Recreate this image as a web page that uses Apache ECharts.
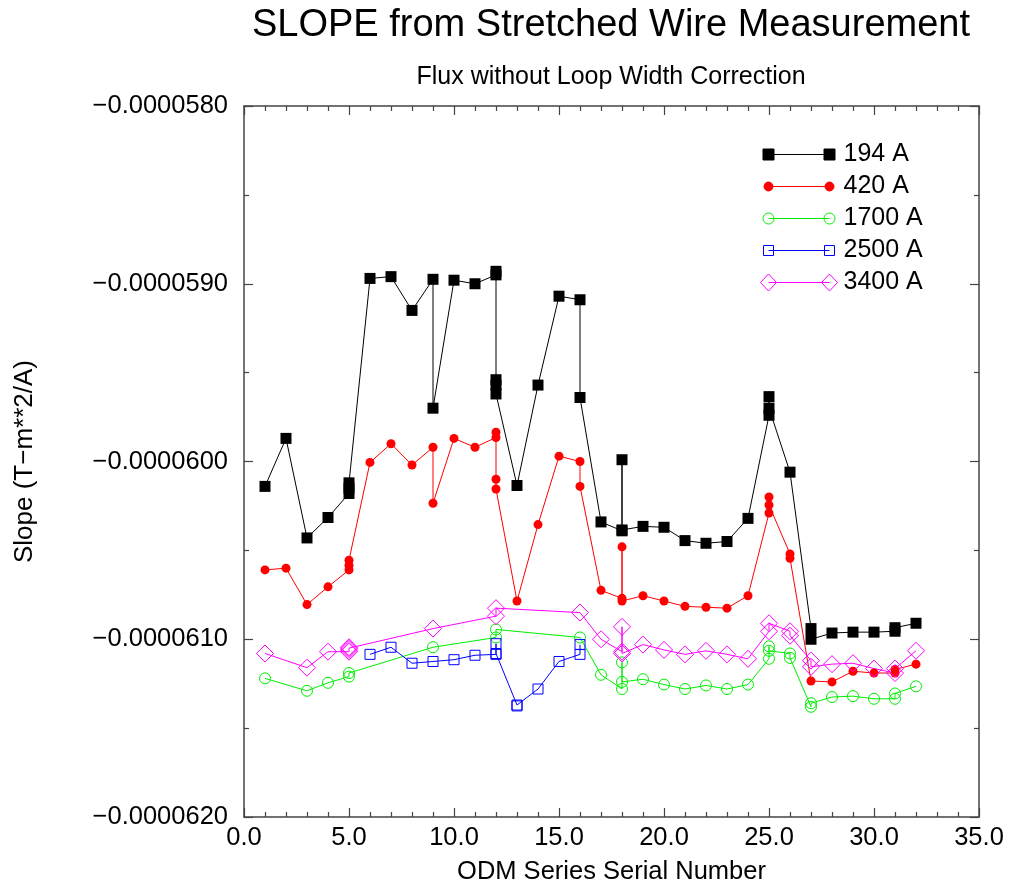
<!DOCTYPE html>
<html>
<head>
<meta charset="utf-8">
<script src="https://cdn.jsdelivr.net/npm/echarts@6/dist/echarts.min.js"></script>
<style>html,body{margin:0;padding:0;background:#fff;overflow:hidden}#c{width:1010px;height:890px}</style>
</head>
<body>
<div id="c"></div>
<script>
// Values are slope in units of 1e-6 T-m**2/A
const x194 = [1,2,3,4,5,5,5,6,7,8,9,9,10,11,12,12,12,12,12,13,14,15,16,16,17,18,18,18,19,20,21,22,23,24,25,25,25,26,27,27,28,29,30,31,31,32];
const y194 = [-60.14,-59.87,-60.43,-60.315,-60.18,-60.15,-60.12,-58.97,-58.96,-59.15,-58.975,-59.70,-58.98,-59.00,-58.95,-58.93,-59.54,-59.57,-59.62,-60.135,-59.57,-59.07,-59.09,-59.64,-60.34,-60.39,-59.99,-60.385,-60.365,-60.37,-60.445,-60.46,-60.45,-60.32,-59.74,-59.635,-59.70,-60.06,-60.94,-61.0,-60.965,-60.96,-60.96,-60.955,-60.935,-60.91];

const x420 = [1,2,3,4,5,5,5,6,7,8,9,9,10,11,12,12,12,12,13,14,15,16,16,17,18,18,18,19,20,21,22,23,24,25,25,25,26,26,27,28,29,30,31,31,32];
const y420 = [-60.61,-60.60,-60.805,-60.705,-60.61,-60.585,-60.555,-60.005,-59.90,-60.02,-59.92,-60.235,-59.87,-59.92,-59.865,-59.835,-60.10,-60.155,-60.785,-60.355,-59.97,-60.0,-60.14,-60.725,-60.77,-60.48,-60.785,-60.755,-60.785,-60.815,-60.82,-60.825,-60.755,-60.29,-60.20,-60.245,-60.52,-60.545,-61.235,-61.24,-61.18,-61.19,-61.19,-61.17,-61.14];

const x1700 = [1,3,4,5,5,9,12,12,16,17,18,18,18,19,20,21,22,23,24,25,25,25,26,26,27,27,28,29,30,31,31,32];
const y1700 = [-61.22,-61.29,-61.245,-61.21,-61.19,-61.045,-60.99,-60.945,-60.99,-61.2,-61.28,-61.13,-61.24,-61.225,-61.255,-61.28,-61.26,-61.28,-61.255,-61.11,-61.04,-61.065,-61.08,-61.105,-61.38,-61.36,-61.325,-61.32,-61.335,-61.335,-61.305,-61.265];

const x2500 = [6,7,8,9,10,11,12,12,12,13,13,14,15,16,16];
const y2500 = [-61.085,-61.045,-61.135,-61.125,-61.115,-61.09,-61.085,-61.025,-61.08,-61.37,-61.375,-61.28,-61.125,-61.085,-61.03];

const x3400 = [1,3,4,5,5,5,5,9,12,12,16,17,18,18,18,19,20,21,22,23,24,25,25,26,26,27,27,28,29,30,31,31,32];
const y3400 = [-61.08,-61.16,-61.07,-61.07,-61.06,-61.05,-61.045,-60.94,-60.87,-60.825,-60.85,-61.0,-61.07,-60.93,-61.08,-61.03,-61.06,-61.085,-61.065,-61.085,-61.11,-60.955,-60.91,-60.955,-60.98,-61.12,-61.155,-61.14,-61.135,-61.165,-61.19,-61.165,-61.065];

const seriesNames = ['194 A','420 A','1700 A','2500 A','3400 A'];
const xTickValues = [0,5,10,15,20,25,30,35];
const yTickValues = [-62,-61,-60,-59,-58];

const FONT = 'Liberation Sans, Arial, Helvetica, sans-serif';
const pairs = (xs, ys) => xs.map((x, i) => [x, ys[i]]);
const yFmt = v => (v < 0 ? '\u2212' : '') + (Math.abs(v) / 1e6).toFixed(7);

function mk(name, xs, ys, color, symbol, size, filled) {
  return {
    name, type: 'line', data: pairs(xs, ys),
    symbol, symbolSize: size, showSymbol: true,
    lineStyle: { color, width: 1 },
    itemStyle: filled ? { color, borderColor: color, borderWidth: 0 }
                      : { color: 'rgba(0,0,0,0)', borderColor: color, borderWidth: 1 },
    emphasis: { disabled: true }, z: 3
  };
}

const icons = {
  '194 A': 'path://M0,0M78,18M2.5,3.5h11v11h-11zM63.5,3.5h11v11h-11zM8,9L69,9',
  '420 A': 'path://M0,0M78,18M3.5,9A4.5,4.5,0,1,0,12.5,9A4.5,4.5,0,1,0,3.5,9ZM64.5,9A4.5,4.5,0,1,0,73.5,9A4.5,4.5,0,1,0,64.5,9ZM8,9L69,9',
  '1700 A': 'path://M0,0M78,18M2.5,9A5.5,5.5,0,1,0,13.5,9A5.5,5.5,0,1,0,2.5,9ZM63.5,9A5.5,5.5,0,1,0,74.5,9A5.5,5.5,0,1,0,63.5,9ZM8,9L69,9',
  '2500 A': 'path://M0,0M78,18M3,4h10v10h-10zM64,4h10v10h-10zM8,9L69,9',
  '3400 A': 'path://M0,0M78,18M0,9L8,0.5L16,9L8,17.5ZM61,9L69,0.5L77,9L69,17.5ZM8,9L69,9'
};
const legColors = { '194 A': '#000000', '420 A': '#ff0000', '1700 A': '#00ee00', '2500 A': '#0000ff', '3400 A': '#ff00ff' };
const legFilled = { '194 A': true, '420 A': true, '1700 A': false, '2500 A': false, '3400 A': false };

const axisLine = { show: true, onZero: false, lineStyle: { color: '#444', width: 1.5 } };
const xCommon = { type: 'value', min: 0, max: 35, interval: 5,
  axisLine, splitLine: { show: false },
  axisTick: { inside: true, length: 9, lineStyle: { color: '#444', width: 1.2 } },
  minorTick: { show: true, splitNumber: 5, length: 5, lineStyle: { color: '#444', width: 1.2 } } };
const yCommon = { type: 'value', min: -62, max: -58, interval: 1,
  axisLine, splitLine: { show: false },
  axisTick: { inside: true, length: 9, lineStyle: { color: '#444', width: 1.2 } },
  minorTick: { show: true, splitNumber: 2, length: 5, lineStyle: { color: '#444', width: 1.2 } } };

const option = {
  animation: false,
  backgroundColor: '#fff',
  title: [
    { text: 'SLOPE from Stretched Wire Measurement', left: 606, top: 2, textAlign: 'center',
      textStyle: { fontFamily: FONT, fontSize: 38, fontWeight: 'normal', color: '#000' } },
    { text: 'Flux without Loop Width Correction', left: 606, top: 60, textAlign: 'center',
      textStyle: { fontFamily: FONT, fontSize: 25, fontWeight: 'normal', color: '#000' } }
  ],
  legend: {
    orient: 'vertical', left: 755, top: 137, itemWidth: 78, itemHeight: 18, itemGap: 7,
    symbolKeepAspect: false, selectedMode: false,
    textStyle: { fontFamily: FONT, fontSize: 25, lineHeight: 24.7, color: '#000' },
    data: seriesNames.map(n => ({
      name: n, icon: icons[n],
      itemStyle: { color: legFilled[n] ? legColors[n] : 'rgba(0,0,0,0)', borderColor: legColors[n], borderWidth: 1 }
    }))
  },
  grid: { left: 244, right: 31, top: 106, bottom: 68, containLabel: false },
  xAxis: [
    Object.assign({}, xCommon, { position: 'bottom',
      name: 'ODM Series Serial Number', nameLocation: 'middle', nameGap: 42,
      nameTextStyle: { fontFamily: FONT, fontSize: 25.5, color: '#000' },
      axisLabel: { fontFamily: FONT, fontSize: 25.5, color: '#000', margin: 8,
        formatter: v => xTickValues.indexOf(v) >= 0 ? v.toFixed(1) : '' } }),
    Object.assign({}, xCommon, { position: 'top', axisLabel: { show: false } })
  ],
  yAxis: [
    Object.assign({}, yCommon, { position: 'left',
      name: 'Slope (T\u2212m**2/A)', nameLocation: 'middle', nameGap: 206,
      nameTextStyle: { fontFamily: FONT, fontSize: 26, color: '#000' },
      axisLabel: { fontFamily: FONT, fontSize: 25.5, color: '#000', margin: 16,
        formatter: v => yTickValues.indexOf(v) >= 0 ? yFmt(v) : '' } }),
    Object.assign({}, yCommon, { position: 'right', axisLabel: { show: false } })
  ],
  series: [
    mk('194 A', x194, y194, '#000000', 'rect', 11, true),
    mk('420 A', x420, y420, '#ff0000', 'circle', 9, true),
    mk('1700 A', x1700, y1700, '#00ee00', 'circle', 11, false),
    mk('2500 A', x2500, y2500, '#0000ff', 'rect', 10, false),
    mk('3400 A', x3400, y3400, '#ff00ff', 'diamond', 17, false)
  ]
};
const chart = echarts.init(document.getElementById('c'), null, { renderer: 'canvas', width: 1010, height: 890 });
chart.setOption(option);
</script>
</body>
</html>
